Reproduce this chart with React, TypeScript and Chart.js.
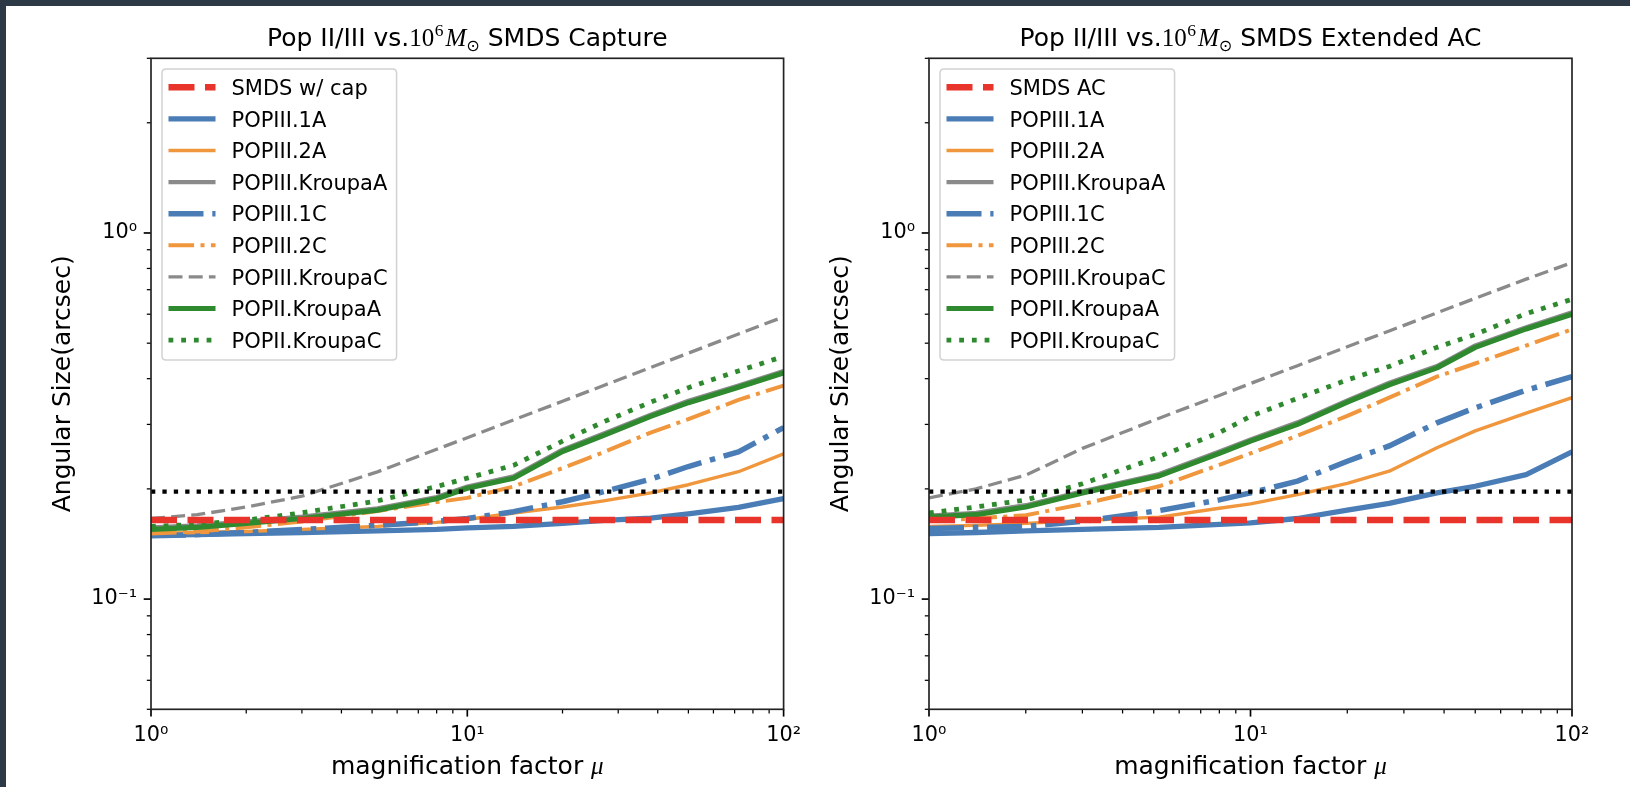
import React, { useEffect, useRef } from "react";
import { Chart, registerables } from "chart.js";

Chart.register(...registerables);

// ---------------- data ----------------
const MU = [1, 1.4, 2, 3, 5.2, 8, 10, 14, 20, 27, 38, 50, 72, 100];

const X_RANGE = [1, 100];
const Y_RANGE = [0.05, 3];
const X_MAJOR = [1, 10, 100];
const X_MAJOR_LABELS = ["10⁰", "10¹", "10²"];
const Y_MAJOR = [0.1, 1];
const Y_MAJOR_LABELS = ["10⁻¹", "10⁰"];

const SMDS_CAPTURE_SIZE = 0.1644;
const SMDS_AC_SIZE = 0.1644;
const RESOLUTION_LIMIT = 0.1965;

// panel 1: SMDS capture
const CAP_POPIII_1A = [0.1495, 0.15, 0.151, 0.152, 0.1535, 0.155, 0.1565, 0.158, 0.161, 0.164, 0.1665, 0.171, 0.178, 0.188];
const CAP_POPIII_2A = [0.151, 0.152, 0.153, 0.155, 0.158, 0.162, 0.165, 0.1718, 0.1785, 0.1855, 0.195, 0.2053, 0.2228, 0.2495];
const CAP_POPIII_KROUPA_A = [0.157, 0.159, 0.163, 0.168, 0.177, 0.19, 0.203, 0.2165, 0.256, 0.2835, 0.319, 0.348, 0.383, 0.42];
const CAP_POPIII_1C = [0.149, 0.15, 0.152, 0.155, 0.159, 0.163, 0.166, 0.1733, 0.1845, 0.1965, 0.2125, 0.2302, 0.2525, 0.294];
const CAP_POPIII_2C = [0.151, 0.153, 0.157, 0.163, 0.174, 0.184, 0.189, 0.203, 0.228, 0.252, 0.285, 0.31, 0.35, 0.383];
const CAP_POPIII_KROUPA_C = [0.166, 0.17, 0.1785, 0.191, 0.2226, 0.2565, 0.276, 0.3086, 0.347, 0.3833, 0.429, 0.4697, 0.53, 0.59];
const CAP_POPII_KROUPA_A = [0.155, 0.157, 0.161, 0.166, 0.175, 0.188, 0.2007, 0.2138, 0.253, 0.28, 0.3155, 0.344, 0.379, 0.415];
const CAP_POPII_KROUPA_C = [0.158, 0.16, 0.1644, 0.172, 0.1855, 0.203, 0.214, 0.232, 0.27, 0.305, 0.345, 0.378, 0.42, 0.46];

// panel 2: SMDS extended AC
const AC_POPIII_1A = [0.151, 0.152, 0.1535, 0.155, 0.157, 0.16, 0.1615, 0.166, 0.1751, 0.1825, 0.195, 0.2033, 0.2188, 0.2526];
const AC_POPIII_2A = [0.158, 0.159, 0.161, 0.164, 0.1675, 0.177, 0.182, 0.193, 0.207, 0.2235, 0.259, 0.288, 0.322, 0.355];
const AC_POPIII_KROUPA_A = [0.169, 0.172, 0.1805, 0.197, 0.2195, 0.253, 0.273, 0.304, 0.349, 0.39, 0.433, 0.493, 0.553, 0.607];
const AC_POPIII_1C = [0.156, 0.157, 0.158, 0.163, 0.1745, 0.1866, 0.195, 0.21, 0.238, 0.262, 0.303, 0.333, 0.372, 0.405];
const AC_POPIII_2C = [0.1636, 0.166, 0.1695, 0.1817, 0.2033, 0.2325, 0.25, 0.2795, 0.3164, 0.355, 0.405, 0.44, 0.4925, 0.5455];
const AC_POPIII_KROUPA_C = [0.189, 0.2, 0.218, 0.258, 0.312, 0.36, 0.388, 0.434, 0.489, 0.54, 0.605, 0.663, 0.748, 0.83];
const AC_POPII_KROUPA_A = [0.1675, 0.17, 0.1785, 0.195, 0.217, 0.25, 0.27, 0.3, 0.345, 0.385, 0.428, 0.487, 0.547, 0.6];
const AC_POPII_KROUPA_C = [0.172, 0.1785, 0.1865, 0.2065, 0.245, 0.285, 0.3155, 0.3536, 0.397, 0.432, 0.487, 0.5284, 0.602, 0.659];

const SERIES_NAMES = [
  "POPIII.1A",
  "POPIII.2A",
  "POPIII.KroupaA",
  "POPIII.1C",
  "POPIII.2C",
  "POPIII.KroupaC",
  "POPII.KroupaA",
  "POPII.KroupaC",
];

// ---------------- styles ----------------
const SANS = "'DejaVu Sans', sans-serif";
const SERIF = "'Liberation Serif', 'DejaVu Serif', serif";

const BLUE = "#4a7db6";
const ORANGE = "#f0963c";
const GRAY = "#8a8a8a";
const GREEN = "#2f8a2f";
const RED = "#e8342b";

type Style = { color: string; width: number; dash: number[] };
const SERIES_STYLES: Style[] = [
  { color: BLUE, width: 5.3, dash: [] },
  { color: ORANGE, width: 3.4, dash: [] },
  { color: GRAY, width: 4.2, dash: [] },
  { color: BLUE, width: 5.5, dash: [35, 8.8, 5.5, 8.8] },
  { color: ORANGE, width: 4, dash: [25.6, 6.4, 4, 6.4] },
  { color: GRAY, width: 3.3, dash: [14, 6.2] },
  { color: GREEN, width: 5.2, dash: [] },
  { color: GREEN, width: 4.8, dash: [4.8, 7.9] },
];
const SMDS_STYLE: Style = { color: RED, width: 6.5, dash: [26, 10.5] };
const LIMIT_STYLE: Style = { color: "#000000", width: 4.3, dash: [4.3, 7.1] };

const TICK_FONT = 20.8;
const LABEL_FONT = 25;
const LEGEND_FONT = 21;
const Y_SCALE_WIDTH = 85;

type Panel = {
  canvasLeft: number;
  axisLeft: number;
  axisRight: number;
  titleAfter: string;
  smdsLabel: string;
  smdsValue: number;
  series: number[][];
};

const PANELS: Panel[] = [
  {
    canvasLeft: 0,
    axisLeft: 151,
    axisRight: 794,
    titleAfter: " SMDS Capture",
    smdsLabel: "SMDS w/ cap",
    smdsValue: SMDS_CAPTURE_SIZE,
    series: [
      CAP_POPIII_1A,
      CAP_POPIII_2A,
      CAP_POPIII_KROUPA_A,
      CAP_POPIII_1C,
      CAP_POPIII_2C,
      CAP_POPIII_KROUPA_C,
      CAP_POPII_KROUPA_A,
      CAP_POPII_KROUPA_C,
    ],
  },
  {
    canvasLeft: 815,
    axisLeft: 114,
    axisRight: 757,
    titleAfter: " SMDS Extended AC",
    smdsLabel: "SMDS AC",
    smdsValue: SMDS_AC_SIZE,
    series: [
      AC_POPIII_1A,
      AC_POPIII_2A,
      AC_POPIII_KROUPA_A,
      AC_POPIII_1C,
      AC_POPIII_2C,
      AC_POPIII_KROUPA_C,
      AC_POPII_KROUPA_A,
      AC_POPII_KROUPA_C,
    ],
  },
];

function minorTicks(min: number, max: number, majors: number[]) {
  const out: number[] = [];
  for (let d = Math.floor(Math.log10(min)); d <= Math.ceil(Math.log10(max)); d++) {
    for (let k = 2; k <= 9; k++) {
      const v = parseFloat((k * Math.pow(10, d)).toPrecision(6));
      if (v >= min - 1e-12 && v <= max + 1e-12 && !majors.includes(v)) out.push(v);
    }
  }
  return out;
}

type LegendItem = { label: string; style: Style };

function makeDecor(panel: Panel, legendItems: LegendItem[]) {
  return {
    id: "decor",
    afterDraw(chart: any) {
      const ctx: CanvasRenderingContext2D = chart.ctx;
      const ca = chart.chartArea;
      const xs = chart.scales.x;
      const ys = chart.scales.y;
      ctx.save();

      // ---- ticks ----
      ctx.strokeStyle = "#000";
      ctx.setLineDash([]);
      const drawX = (v: number, len: number, w: number) => {
        const p = xs.getPixelForValue(v);
        ctx.lineWidth = w;
        ctx.beginPath();
        ctx.moveTo(p, ca.bottom);
        ctx.lineTo(p, ca.bottom + len);
        ctx.stroke();
      };
      const drawY = (v: number, len: number, w: number) => {
        const p = ys.getPixelForValue(v);
        ctx.lineWidth = w;
        ctx.beginPath();
        ctx.moveTo(ca.left, p);
        ctx.lineTo(ca.left - len, p);
        ctx.stroke();
      };
      X_MAJOR.forEach((v) => drawX(v, 7.3, 1.67));
      minorTicks(X_RANGE[0], X_RANGE[1], X_MAJOR).forEach((v) => drawX(v, 4.2, 1.25));
      Y_MAJOR.forEach((v) => drawY(v, 7.3, 1.67));
      minorTicks(Y_RANGE[0], Y_RANGE[1], Y_MAJOR).forEach((v) => drawY(v, 4.2, 1.25));

      // ---- spines ----
      ctx.lineWidth = 1.67;
      ctx.strokeStyle = "#222";
      ctx.strokeRect(ca.left, ca.top, ca.right - ca.left, ca.bottom - ca.top);

      // ---- title ----
      ctx.fillStyle = "#000";
      ctx.textBaseline = "alphabetic";
      ctx.textAlign = "left";
      const parts = [
        { t: "Pop II/III vs.", f: `${LABEL_FONT}px ${SANS}`, dy: 0, dx: 0 },
        { t: "10", f: `${LABEL_FONT}px ${SERIF}`, dy: 0, dx: 0 },
        { t: "6", f: `17.5px ${SERIF}`, dy: -10, dx: 0.5 },
        { t: "M", f: `italic ${LABEL_FONT}px ${SERIF}`, dy: 0, dx: 2 },
        { t: "⊙", f: `16px ${SANS}`, dy: 5, dx: 0 },
        { t: panel.titleAfter, f: `${LABEL_FONT}px ${SANS}`, dy: 0, dx: 0 },
      ];
      let total = 0;
      const widths = parts.map((p) => {
        ctx.font = p.f;
        const w = ctx.measureText(p.t).width;
        total += w + p.dx;
        return w;
      });
      let tx = (ca.left + ca.right) / 2 - total / 2;
      const titleBase = ca.top - 12.3;
      parts.forEach((p, i) => {
        tx += p.dx;
        ctx.font = p.f;
        ctx.fillText(p.t, tx, titleBase + p.dy);
        tx += widths[i];
      });

      // ---- x label ----
      const xl1 = "magnification factor ";
      const xl2 = "μ";
      ctx.font = `${LABEL_FONT}px ${SANS}`;
      const w1 = ctx.measureText(xl1).width;
      ctx.font = `italic ${LABEL_FONT}px ${SERIF}`;
      const w2 = ctx.measureText(xl2).width;
      const xlx = (ca.left + ca.right) / 2 - (w1 + w2) / 2;
      const xly = ca.bottom + 65;
      ctx.font = `${LABEL_FONT}px ${SANS}`;
      ctx.fillText(xl1, xlx, xly);
      ctx.font = `italic ${LABEL_FONT}px ${SERIF}`;
      ctx.fillText(xl2, xlx + w1, xly);

      // ---- y label ----
      ctx.save();
      ctx.translate(ca.left - 81, (ca.top + ca.bottom) / 2);
      ctx.rotate(-Math.PI / 2);
      ctx.textAlign = "center";
      ctx.font = `${LABEL_FONT}px ${SANS}`;
      ctx.fillText("Angular Size(arcsec)", 0, 0);
      ctx.restore();

      // ---- legend ----
      ctx.font = `${LEGEND_FONT}px ${SANS}`;
      let maxW = 0;
      legendItems.forEach((it) => {
        maxW = Math.max(maxW, ctx.measureText(it.label).width);
      });
      const boxL = ca.left + 11;
      const boxT = ca.top + 10.7;
      const row0 = ca.top + 29;
      const step = 31.6;
      const textX = ca.left + 80.5;
      const boxR = textX + maxW + 9;
      const boxB = row0 + step * (legendItems.length - 1) + 20;
      const r = 4;
      ctx.beginPath();
      ctx.moveTo(boxL + r, boxT);
      ctx.lineTo(boxR - r, boxT);
      ctx.quadraticCurveTo(boxR, boxT, boxR, boxT + r);
      ctx.lineTo(boxR, boxB - r);
      ctx.quadraticCurveTo(boxR, boxB, boxR - r, boxB);
      ctx.lineTo(boxL + r, boxB);
      ctx.quadraticCurveTo(boxL, boxB, boxL, boxB - r);
      ctx.lineTo(boxL, boxT + r);
      ctx.quadraticCurveTo(boxL, boxT, boxL + r, boxT);
      ctx.closePath();
      ctx.fillStyle = "rgba(255,255,255,0.8)";
      ctx.fill();
      ctx.lineWidth = 1.5;
      ctx.strokeStyle = "#d2d2d2";
      ctx.stroke();

      legendItems.forEach((it, i) => {
        const y = row0 + step * i;
        ctx.beginPath();
        ctx.setLineDash(it.style.dash);
        ctx.lineDashOffset = 0;
        ctx.lineCap = "butt";
        ctx.lineWidth = it.style.width;
        ctx.strokeStyle = it.style.color;
        ctx.moveTo(ca.left + 17.5, y);
        ctx.lineTo(ca.left + 64.5, y);
        ctx.stroke();
        ctx.setLineDash([]);
        ctx.fillStyle = "#000";
        ctx.font = `${LEGEND_FONT}px ${SANS}`;
        ctx.textAlign = "left";
        ctx.textBaseline = "alphabetic";
        ctx.fillText(it.label, textX, y + 7.6);
      });

      ctx.restore();
    },
  };
}

function lineDataset(label: string, values: number[], style: Style, order: number) {
  return {
    label,
    data: MU.map((m, i) => ({ x: m, y: values[i] })),
    borderColor: style.color,
    backgroundColor: style.color,
    borderWidth: style.width,
    borderDash: style.dash,
    borderJoinStyle: "round",
    borderCapStyle: "butt",
    pointRadius: 0,
    fill: false,
    tension: 0,
    order,
    clip: 0,
  };
}

function hLineDataset(label: string, value: number, style: Style, order: number) {
  return {
    label,
    data: [
      { x: X_RANGE[0], y: value },
      { x: X_RANGE[1], y: value },
    ],
    borderColor: style.color,
    backgroundColor: style.color,
    borderWidth: style.width,
    borderDash: style.dash,
    borderCapStyle: "butt",
    pointRadius: 0,
    fill: false,
    order,
    clip: 0,
  };
}

function buildConfig(panel: Panel): any {
  const datasets: any[] = [];
  datasets.push(hLineDataset(panel.smdsLabel, panel.smdsValue, SMDS_STYLE, 0));
  panel.series.forEach((vals, i) => {
    datasets.push(lineDataset(SERIES_NAMES[i], vals, SERIES_STYLES[i], 9 - i));
  });
  datasets.push(hLineDataset("", RESOLUTION_LIMIT, LIMIT_STYLE, 1));

  const legendItems: LegendItem[] = [
    { label: panel.smdsLabel, style: SMDS_STYLE },
    ...SERIES_NAMES.map((n, i) => ({ label: n, style: SERIES_STYLES[i] })),
  ];

  return {
    type: "line",
    data: { datasets },
    options: {
      responsive: false,
      maintainAspectRatio: false,
      animation: false,
      devicePixelRatio: 1,
      events: [],
      layout: {
        padding: {
          left: panel.axisLeft - Y_SCALE_WIDTH,
          right: 815 - panel.axisRight,
          top: 58.3,
          bottom: 37.7,
        },
      },
      plugins: {
        legend: { display: false },
        title: { display: false },
        tooltip: { enabled: false },
      },
      scales: {
        x: {
          type: "logarithmic",
          min: X_RANGE[0],
          max: X_RANGE[1],
          afterBuildTicks: (s: any) => {
            s.ticks = X_MAJOR.map((v) => ({ value: v }));
          },
          afterFit: (s: any) => {
            s.height = 40;
          },
          grid: { display: false, drawTicks: false },
          border: { display: false },
          ticks: {
            autoSkip: false,
            maxRotation: 0,
            minRotation: 0,
            padding: 14,
            color: "#000",
            font: { family: SANS, size: TICK_FONT },
            callback: (v: any) => {
              const i = X_MAJOR.indexOf(Number(v));
              return i >= 0 ? X_MAJOR_LABELS[i] : "";
            },
          },
        },
        y: {
          type: "logarithmic",
          min: Y_RANGE[0],
          max: Y_RANGE[1],
          afterBuildTicks: (s: any) => {
            s.ticks = Y_MAJOR.map((v) => ({ value: v }));
          },
          afterFit: (s: any) => {
            s.width = Y_SCALE_WIDTH;
          },
          grid: { display: false, drawTicks: false },
          border: { display: false },
          ticks: {
            autoSkip: false,
            padding: 14,
            color: "#000",
            font: { family: SANS, size: TICK_FONT },
            callback: (v: any) => {
              const i = Y_MAJOR.findIndex((m) => Math.abs(m - Number(v)) < 1e-9);
              return i >= 0 ? Y_MAJOR_LABELS[i] : "";
            },
          },
        },
      },
    },
    plugins: [makeDecor(panel, legendItems)],
  };
}

export default function App() {
  const leftRef = useRef<HTMLCanvasElement>(null);
  const rightRef = useRef<HTMLCanvasElement>(null);

  useEffect(() => {
    const charts: Chart[] = [];
    if (leftRef.current) charts.push(new Chart(leftRef.current, buildConfig(PANELS[0])));
    if (rightRef.current) charts.push(new Chart(rightRef.current, buildConfig(PANELS[1])));
    return () => {
      charts.forEach((c) => c.destroy());
    };
  }, []);

  const canvasStyle = (left: number): React.CSSProperties => ({
    position: "absolute",
    left,
    top: 0,
    width: 815,
    height: 787,
  });

  return (
    <div
      style={{
        position: "fixed",
        left: 0,
        top: 0,
        width: 1630,
        height: 787,
        background: "#ffffff",
        overflow: "hidden",
      }}
    >
      <canvas ref={leftRef} width={815} height={787} style={canvasStyle(PANELS[0].canvasLeft)} />
      <canvas ref={rightRef} width={815} height={787} style={canvasStyle(PANELS[1].canvasLeft)} />
      <div style={{ position: "absolute", left: 0, top: 0, width: 1630, height: 6, background: "#2d3a46" }} />
      <div style={{ position: "absolute", left: 0, top: 0, width: 6, height: 787, background: "#2d3a46" }} />
    </div>
  );
}
